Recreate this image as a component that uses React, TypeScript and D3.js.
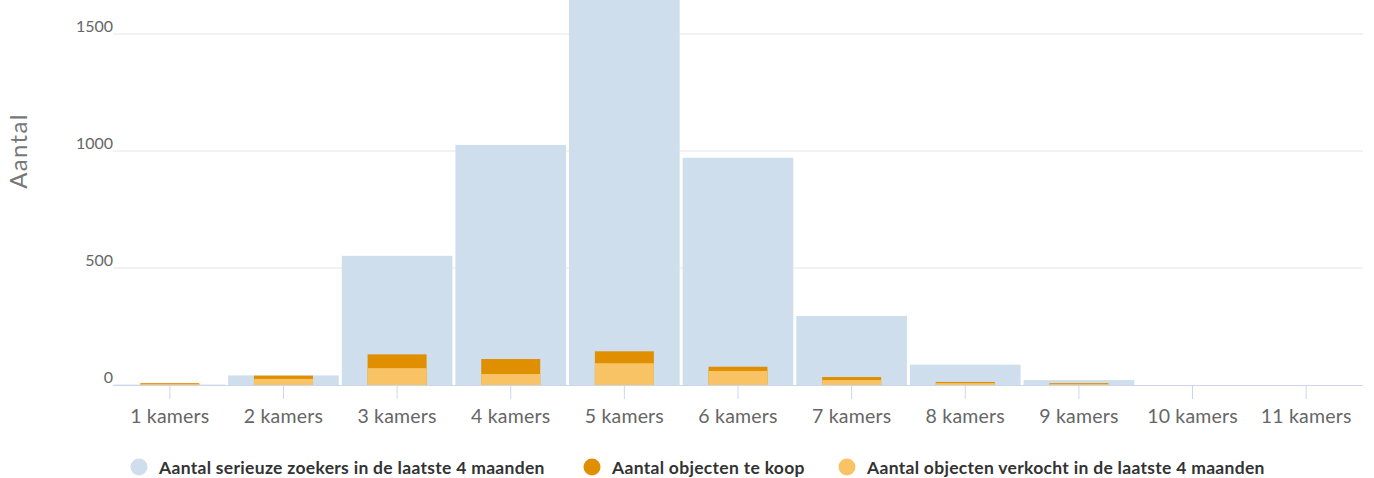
import React from "react";
import * as d3 from "d3";

const categories = ["1 kamers", "2 kamers", "3 kamers", "4 kamers", "5 kamers", "6 kamers", "7 kamers", "8 kamers", "9 kamers", "10 kamers", "11 kamers"];
const zoekers = [2, 41, 552, 1026, 1720, 971, 295, 87, 21, 0, 0];
const teKoop = [8, 40, 131, 111, 144, 78, 34, 13, 8, 0, 0];
const verkocht = [4, 26, 72, 47, 93, 60, 21, 8, 4, 0, 0];
const yTicks = [0, 500, 1000, 1500];
const legendItems = [
  { label: "Aantal serieuze zoekers in de laatste 4 maanden", color: "#cfdeec", x: 139 },
  { label: "Aantal objecten te koop", color: "#e08f00", x: 592 },
  { label: "Aantal objecten verkocht in de laatste 4 maanden", color: "#f7c365", x: 847 },
];

const W = 1374;
const H = 478;
const FONT = "Lato, 'Open Sans', sans-serif";

export default function App() {
  const x = d3.scaleBand<string>().domain(categories).range([113, 1363]).paddingInner(0).paddingOuter(0);
  const y = d3.scaleLinear().domain([0, 1500]).range([385, 34]);
  const bw = x.bandwidth();
  const innerW = 59;

  return (
    <div style={{ position: "absolute", left: 0, top: 0 }}>
      <svg width={W} height={H} style={{ display: "block", fontFamily: FONT }}>
        <rect x={0} y={0} width={W} height={H} fill="#ffffff" />
        {yTicks.map((t) => (
          <g key={t}>
            {t > 0 && <line x1={113} x2={1363} y1={y(t)} y2={y(t)} stroke="#e6e6e6" strokeWidth={1} />}
            <text x={113} y={y(t) - 2.5} textAnchor="end" fontSize={16} fill="#666666">
              {t}
            </text>
          </g>
        ))}
        <text transform={`translate(27,151) rotate(-90)`} textAnchor="middle" fontSize={24} letterSpacing={1.3} fill="#777777">
          Aantal
        </text>
        {categories.map((c, i) => (
          <rect key={"z" + c} x={(x(c) as number) + 1.5} width={bw - 3} y={y(zoekers[i])} height={385 - y(zoekers[i])} fill="#cfdeec" />
        ))}
        {categories.map((c, i) => {
          const cx = (x(c) as number) + bw / 2;
          return (
            <g key={"o" + c}>
              {teKoop[i] > 0 && (
                <rect x={cx - innerW / 2} width={innerW} y={y(teKoop[i])} height={385 - y(teKoop[i])} fill="#e08f00" />
              )}
              {verkocht[i] > 0 && (
                <rect x={cx - innerW / 2} width={innerW} y={y(verkocht[i])} height={385 - y(verkocht[i])} fill="#f7c365" />
              )}
            </g>
          );
        })}
        <line x1={113} x2={1363} y1={385.5} y2={385.5} stroke="#ccd6eb" strokeWidth={1} />
        {categories.map((c) => {
          const cx = (x(c) as number) + bw / 2;
          return (
            <g key={"t" + c}>
              <line x1={cx} x2={cx} y1={385} y2={399} stroke="#ccd6eb" strokeWidth={1} />
              <text x={cx} y={423} textAnchor="middle" fontSize={19.5} letterSpacing={0.2} fill="#666666">
                {c}
              </text>
            </g>
          );
        })}
        {legendItems.map((l) => (
          <g key={l.label}>
            <circle cx={l.x} cy={467} r={8.5} fill={l.color} />
            <text x={l.x + 20} y={474} fontSize={17.5} fontWeight="bold" letterSpacing={0.3} fill="#333333">
              {l.label}
            </text>
          </g>
        ))}
      </svg>
    </div>
  );
}
